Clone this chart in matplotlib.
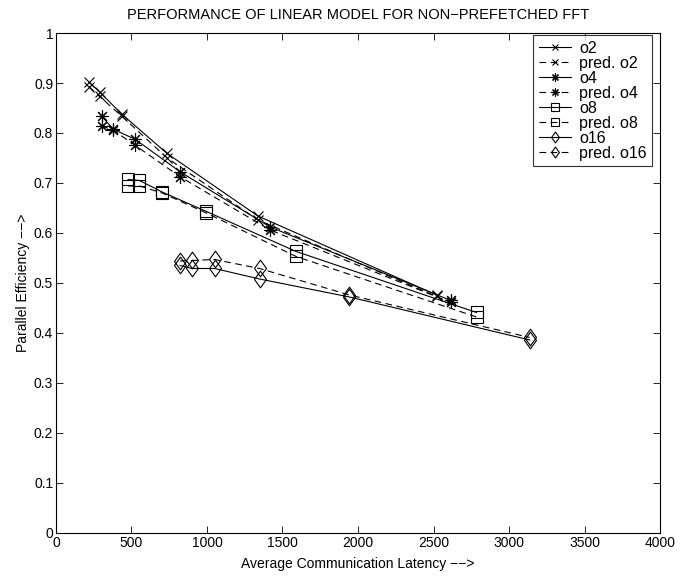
import matplotlib
matplotlib.use("Agg")
import matplotlib.pyplot as plt
from matplotlib.path import Path

plt.rcParams['font.family'] = ['Liberation Sans', 'DejaVu Sans']

# Average communication latency and parallel efficiency for each configuration
lat_o2 = [218, 289, 438, 736, 1337, 2520]
eff_o2 = [0.902, 0.882, 0.837, 0.759, 0.634, 0.476]
eff_pred_o2 = [0.893, 0.873, 0.833, 0.750, 0.626, 0.473]

lat_o4 = [302, 377, 526, 824, 1418, 2615]
eff_o4 = [0.834, 0.808, 0.787, 0.722, 0.612, 0.465]
eff_pred_o4 = [0.814, 0.806, 0.775, 0.712, 0.606, 0.461]

lat_o8 = [478, 553, 703, 996, 1590, 2785]
eff_o8 = [0.707, 0.705, 0.682, 0.643, 0.563, 0.441]
eff_pred_o8 = [0.694, 0.694, 0.680, 0.640, 0.553, 0.432]

lat_o16 = [822, 901, 1050, 1348, 1943, 3137]
eff_o16 = [0.535, 0.529, 0.529, 0.508, 0.472, 0.386]
eff_pred_o16 = [0.544, 0.545, 0.547, 0.529, 0.476, 0.391]

x_ticks = [0, 500, 1000, 1500, 2000, 2500, 3000, 3500, 4000]
y_ticks = [0, 0.1, 0.2, 0.3, 0.4, 0.5, 0.6, 0.7, 0.8, 0.9, 1]

diamond = Path([(0, 1), (0.72, 0), (0, -1), (-0.72, 0), (0, 1)],
               [Path.MOVETO, Path.LINETO, Path.LINETO, Path.LINETO, Path.CLOSEPOLY])
asterisk = (8, 2, 0)

fig = plt.figure(figsize=(6.81, 5.78), dpi=100)
ax = fig.add_axes([0.0822, 0.0779, 0.887, 0.865])

lw = 0.8
common = dict(color='black', linewidth=lw, markeredgewidth=0.8)
series = [
    (lat_o2, eff_o2, 'x', 7, '-', 'o2'),
    (lat_o2, eff_pred_o2, 'x', 7, '--', 'pred. o2'),
    (lat_o4, eff_o4, asterisk, 9, '-', 'o4'),
    (lat_o4, eff_pred_o4, asterisk, 9, '--', 'pred. o4'),
    (lat_o8, eff_o8, 's', 8, '-', 'o8'),
    (lat_o8, eff_pred_o8, 's', 8, '--', 'pred. o8'),
    (lat_o16, eff_o16, diamond, 12, '-', 'o16'),
    (lat_o16, eff_pred_o16, diamond, 12, '--', 'pred. o16'),
]
for xs, ys, mk, ms, ls, lab in series:
    ax.plot(xs, ys, linestyle=ls, marker=mk, markersize=ms,
            markerfacecolor='none', markeredgecolor='black', label=lab,
            dashes=(6, 4) if ls == '--' else (None, None), **common)

ax.set_xlim(0, 4000)
ax.set_ylim(0, 1)
ax.set_xticks(x_ticks)
ax.set_yticks(y_ticks)
ax.set_xticklabels([str(t) for t in x_ticks])
ax.set_yticklabels(['0', '0.1', '0.2', '0.3', '0.4', '0.5', '0.6', '0.7', '0.8', '0.9', '1'])
ax.tick_params(direction='in', length=5, width=0.6, top=True, right=True,
               labelsize=10, pad=2)
for sp in ax.spines.values():
    sp.set_linewidth(0.8)

ax.set_title('PERFORMANCE OF LINEAR MODEL FOR NON\u2212PREFETCHED FFT', fontsize=10.5, pad=10)
ax.set_xlabel('Average Communication Latency \u2212\u2212>', fontsize=10, labelpad=5)
ax.set_ylabel('Parallel Efficiency \u2212\u2212>', fontsize=10, labelpad=3)

leg = ax.legend(loc='upper right', bbox_to_anchor=(0.987, 0.996), borderaxespad=0,
                prop={'size': 11.5}, frameon=True, fancybox=False,
                edgecolor='black', handlelength=2.0, handletextpad=0.5,
                labelspacing=0.0, borderpad=0.35, markerscale=0.65)
leg.get_frame().set_linewidth(0.8)

fig.savefig('out.png', dpi=100)
